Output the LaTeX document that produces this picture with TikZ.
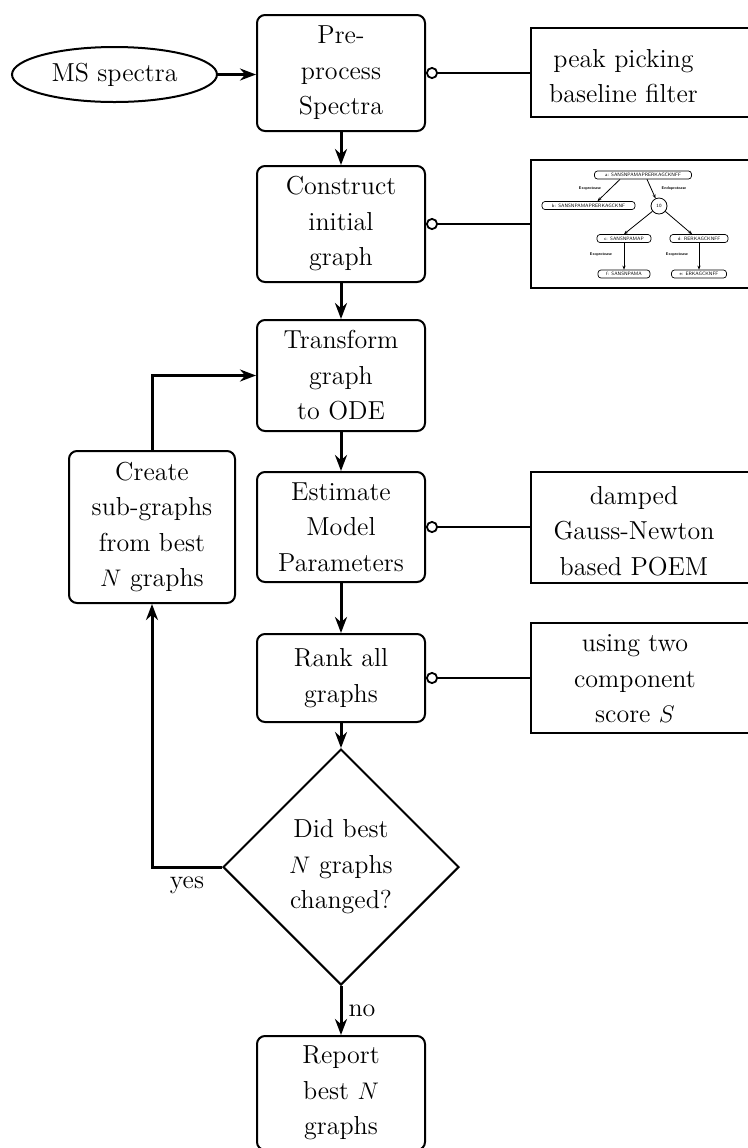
\documentclass[tikz,border=0pt]{standalone}
\usepackage{fontspec}
\usetikzlibrary{arrows.meta,shapes.geometric}
\begin{document}
\begin{tikzpicture}[x=0.5pt,y=-0.5pt,
  txtfont/.style={font=\fontsize{13}{17.75}\selectfont},
  box/.style={draw,line width=1pt,rounded corners=4pt,minimum width=84pt,align=center,inner sep=0pt,txtfont},
  sidebox/.style={draw,line width=1pt,minimum width=115pt,inner sep=0pt},
  sidetxt/.style={align=center,inner sep=0pt,txtfont},
  flow/.style={line width=1.5pt,-{Stealth[length=8pt,width=6pt]}},
  aux/.style={line width=1pt,{Circle[open,length=6pt,width=6pt,line width=0.9pt]}-},
  gnode/.style={draw,line width=0.35pt,rounded corners=1.5pt,fill=white,inner sep=0pt,minimum height=4pt,font=\fontsize{2.4}{2.7}\selectfont\sffamily},
  glabel/.style={inner sep=0pt,font=\fontsize{2}{2.3}\selectfont\sffamily\bfseries},
  garrow/.style={line width=0.4pt,-{Stealth[length=2pt,width=1.6pt]}}
]
\useasboundingbox (0,0) rectangle (748,1148);

% main flow
\node[draw,ellipse,line width=1pt,minimum width=102.5pt,minimum height=27.5pt,inner sep=0pt,txtfont] (ms) at (114.5,74.5) {MS spectra};
\node[box,minimum height=58pt] (pre) at (341,73) {Pre-\\process\\Spectra};
\node[box,minimum height=58pt] (con) at (341,224) {Construct\\initial\\graph};
\node[box,minimum height=55.5pt] (tra) at (341,375.5) {Transform\\graph\\to ODE};
\node[box,minimum height=55pt] (est) at (341,527) {Estimate\\Model\\Parameters};
\node[box,minimum height=44pt] (rank) at (341,678) {Rank all\\graphs};
\node[draw,diamond,line width=1pt,minimum width=118pt,minimum height=118pt,inner sep=0pt,align=center,txtfont] (dia) at (341,867) {Did best\\$N$ graphs\\changed?};
\node[box,minimum height=57pt] (rep) at (341,1093) {Report\\best $N$\\graphs};
\node[box,minimum width=83pt,minimum height=76pt] (cre) at (152,527) {Create\\sub-graphs\\from best\\$N$ graphs};

% side boxes
\node[sidebox,minimum height=44.5pt] (peak) at (646,72.5) {};
\node[sidetxt] (peaktxt) at (623.5,76) {peak picking\\baseline filter};
\node[sidebox,minimum height=64pt] (gbox) at (646,224) {};
\node[sidebox,minimum height=55.5pt] (damp) at (646,527.5) {};
\node[sidetxt] (damptxt) at (634,531) {damped\\Gauss-Newton\\based POEM};
\node[sidebox,minimum height=55pt] (use) at (646,678) {};
\node[sidetxt] (usetxt) at (635,679) {using two\\component\\score $S$};

% inner graph
\node[gnode,minimum width=48.5pt] (ga) at (643,175) {a: SANSNPAMAPRERKAGCKNFF};
\node[gnode,minimum width=46.5pt] (gb) at (588.5,205.5) {b: SANSNPAMAPRERKAGCKNF};
\node[draw,circle,line width=0.4pt,minimum size=8pt,inner sep=0pt,fill=white,font=\fontsize{2.4}{2.7}\selectfont\sffamily] (g10) at (659,206) {10};
\node[gnode,minimum width=27pt] (gc) at (624,238.5) {c: SANSNPAMAP};
\node[gnode,minimum width=29pt] (gd) at (699,238.5) {d: RERKAGCKNFF};
\node[gnode,minimum width=26pt] (gf) at (624,274) {f: SANSNPAMA};
\node[gnode,minimum width=27.5pt] (ge) at (699,274) {e: ERKAGCKNFF};
\node[glabel] (l1) at (590,188) {Exoprotease};
\node[glabel] (l2) at (674,188) {Endoprotease};
\node[glabel] (l3) at (601,254.5) {Exoprotease};
\node[glabel] (l4) at (677,254.5) {Exoprotease};
\draw[garrow] ([xshift=-11.5pt]ga.south) -- ([xshift=4.5pt]gb.north);
\draw[garrow] ([xshift=2pt]ga.south) -- (g10);
\draw[garrow] (g10) -- (gc.north);
\draw[garrow] (g10) -- ([xshift=-3.5pt]gd.north);
\draw[garrow] (gc) -- (gf);
\draw[garrow] (gd) -- (ge);

% connectors
\draw[flow] (ms.east) -- (ms.east -| pre.west);
\draw[flow] (pre) -- (con);
\draw[flow] (con) -- (tra);
\draw[flow] (tra) -- (est);
\draw[flow] (est) -- (rank);
\draw[flow] (rank) -- (dia);
\draw[flow] (dia) -- node[right=3pt,txtfont,inner sep=0pt] (no) {no} (rep);
\draw[flow] (dia.west) -| (cre.south);
\draw[flow] (cre.north) |- (tra.west);
\node[txtfont,inner sep=0pt] (yes) at (187,885) {yes};

\draw[aux] (pre.east) -- (peak.west |- pre.east);
\draw[aux] (con.east) -- (gbox.west |- con.east);
\draw[aux] (est.east) -- (damp.west |- est.east);
\draw[aux] (rank.east) -- (use.west |- rank.east);
\end{tikzpicture}
\end{document}
